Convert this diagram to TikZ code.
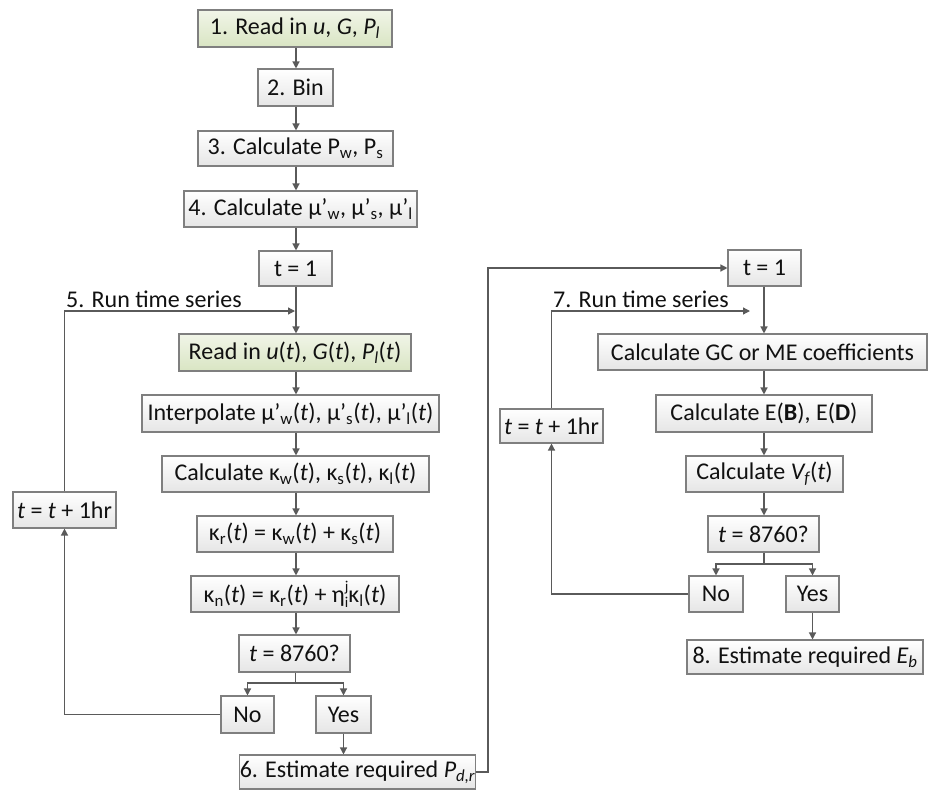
\documentclass[tikz,border=0pt]{standalone}
\usepackage{fontspec}
\setmainfont{Carlito}
\usetikzlibrary{arrows.meta,calc}
\definecolor{bd}{HTML}{7F7F7F}
\definecolor{ln}{HTML}{5A5A5A}
\definecolor{gtop}{HTML}{F1F5E8}
\definecolor{gbot}{HTML}{D9E5C3}
\definecolor{txt}{HTML}{111111}
\newcommand{\sbs}[1]{\textsubscript{#1}}
\newcommand{\etaij}{η\raisebox{-4.5pt}{\fontsize{15}{15}\selectfont\shortstack[l]{j\\i}}}
\tikzset{
 box/.style={draw=bd, line width=1.1pt, top color=white, bottom color=black!10, inner sep=0pt, align=center, text=txt, font=\fontsize{24}{28}\selectfont},
 gbox/.style={box, top color=gtop, bottom color=gbot},
 conn/.style={draw=ln, line width=1.3pt},
 arr/.style={conn, -{Triangle[width=7pt,length=7pt]}},
 lbl/.style={text=txt, font=\fontsize{24}{28}\selectfont, inner sep=0pt},
}
\begin{document}
\begin{tikzpicture}[x=1pt,y=-1pt]
\useasboundingbox (0,0) rectangle (928,789);
% left column
\node[gbox, minimum width=194pt, minimum height=37pt] (n1) at (295,28.5) {1. Read in \textit{u}, \textit{G}, \textit{P\sbs{l}}};
\node[box, minimum width=75pt, minimum height=37pt] (n2) at (295.5,87.5) {2. Bin};
\node[box, minimum width=195pt, minimum height=35pt] (n3) at (295.5,148.5) {3. Calculate P\sbs{w}, P\sbs{s}};
\node[box, minimum width=233pt, minimum height=36pt] (n4) at (300.5,209) {4. Calculate μ’\sbs{w}, μ’\sbs{s}, μ’\sbs{l}};
\node[box, minimum width=73pt, minimum height=35pt] (n5) at (295.5,268.5) {t = 1};
\node[gbox, minimum width=232pt, minimum height=37pt] (n6) at (295,352.5) {Read in \textit{u}(\textit{t}), \textit{G}(\textit{t}), \textit{P\sbs{l}}(\textit{t})};
\node[box, minimum width=297pt, minimum height=37pt] (n7) at (290.5,413.5) {Interpolate μ’\sbs{w}(\textit{t}), μ’\sbs{s}(\textit{t}), μ’\sbs{l}(\textit{t})};
\node[box, minimum width=267pt, minimum height=36pt] (n8) at (295.5,474) {Calculate κ\sbs{w}(\textit{t}), κ\sbs{s}(\textit{t}), κ\sbs{l}(\textit{t})};
\node[box, minimum width=196pt, minimum height=36pt] (n9) at (295,534) {κ\sbs{r}(\textit{t}) = κ\sbs{w}(\textit{t}) + κ\sbs{s}(\textit{t})};
\node[box, minimum width=208pt, minimum height=36pt] (n10) at (295,594) {κ\sbs{n}(\textit{t}) = κ\sbs{r}(\textit{t}) + \etaij κ\sbs{l}(\textit{t})};
\node[box, minimum width=111pt, minimum height=37pt] (n11) at (294.5,653.5) {\textit{t} = 8760?};
\node[box, minimum width=53pt, minimum height=37pt] (no1) at (247.5,714.5) {No};
\node[box, minimum width=55pt, minimum height=37pt] (yes1) at (343.5,714.5) {Yes};
\node[box, minimum width=233pt, minimum height=34pt] (n12) at (357.5,772) {6. Estimate required \textit{P\sbs{d,r}}};
\node[box, minimum width=103pt, minimum height=36pt] (inc1) at (64.5,510) {\textit{t} = \textit{t} + 1hr};
\node[lbl, anchor=base west] (lab5) at (66,307) {5. Run time series};
% right column
\node[box, minimum width=73pt, minimum height=36pt] (r1) at (764.5,268) {t = 1};
\node[box, minimum width=329pt, minimum height=36pt] (r2) at (762.5,352) {Calculate GC or ME coefficients};
\node[box, minimum width=216pt, minimum height=37pt] (r3) at (764,413.5) {Calculate E(\textbf{B}), E(\textbf{D})};
\node[box, minimum width=157pt, minimum height=36pt] (r4) at (764.5,474) {Calculate \textit{V\sbs{f}}(\textit{t})};
\node[box, minimum width=111pt, minimum height=36pt] (r5) at (763.5,534) {\textit{t} = 8760?};
\node[box, minimum width=54pt, minimum height=36pt] (rno) at (716,594) {No};
\node[box, minimum width=53pt, minimum height=36pt] (ryes) at (812.5,594) {Yes};
\node[box, minimum width=236pt, minimum height=34pt] (r6) at (805,657) {8. Estimate required \textit{E\sbs{b}}};
\node[box, minimum width=103pt, minimum height=34pt] (rinc) at (551.5,426) {\textit{t} = \textit{t} + 1hr};
\node[lbl, anchor=base west] (lab7) at (553,307) {7. Run time series};
% helper coordinates
\coordinate (axL) at (296,0);
\coordinate (axR) at (764,0);
\coordinate (lp1) at (295,311);
\coordinate (lp2) at (750,311);
\coordinate (bL) at (295.5,683);
\coordinate (bR) at (764,564);
\coordinate (c6) at (488,268);
% left connectors
\draw[arr] (n1.south -| axL) -- (n2.north -| axL);
\draw[arr] (n2.south -| axL) -- (n3.north -| axL);
\draw[arr] (n3.south -| axL) -- (n4.north -| axL);
\draw[arr] (n4.south -| axL) -- (n5.north -| axL);
\draw[arr] (n5.south -| axL) -- (n6.north -| axL);
\draw[arr] (n6.south -| axL) -- (n7.north -| axL);
\draw[arr] (n7.south -| axL) -- (n8.north -| axL);
\draw[arr] (n8.south -| axL) -- (n9.north -| axL);
\draw[arr] (n9.south -| axL) -- (n10.north -| axL);
\draw[arr] (n10.south -| axL) -- (n11.north -| axL);
\draw[conn] (n11.south -| bL) -- (bL);
\draw[arr] (bL) -| (no1.north);
\draw[arr] (bL) -| (yes1.north);
\draw[arr] (yes1.south) -- (yes1.south |- n12.north);
\draw[arr] (no1.west) -| (inc1.south);
\draw[arr] (inc1.north) |- (lp1);
\draw[arr] (n12.east) -| (c6) -- (r1.west);
% right connectors
\draw[arr] (r1.south -| axR) -- (r2.north -| axR);
\draw[arr] (r2.south -| axR) -- (r3.north -| axR);
\draw[arr] (r3.south -| axR) -- (r4.north -| axR);
\draw[arr] (r4.south -| axR) -- (r5.north -| axR);
\draw[conn] (r5.south -| bR) -- (bR);
\draw[arr] (bR) -| (rno.north);
\draw[arr] (bR) -| (ryes.north);
\draw[arr] (ryes.south) -- (ryes.south |- r6.north);
\draw[arr] (rno.west) -| (rinc.south);
\draw[arr] (rinc.north) |- (lp2);
\end{tikzpicture}
\end{document}
